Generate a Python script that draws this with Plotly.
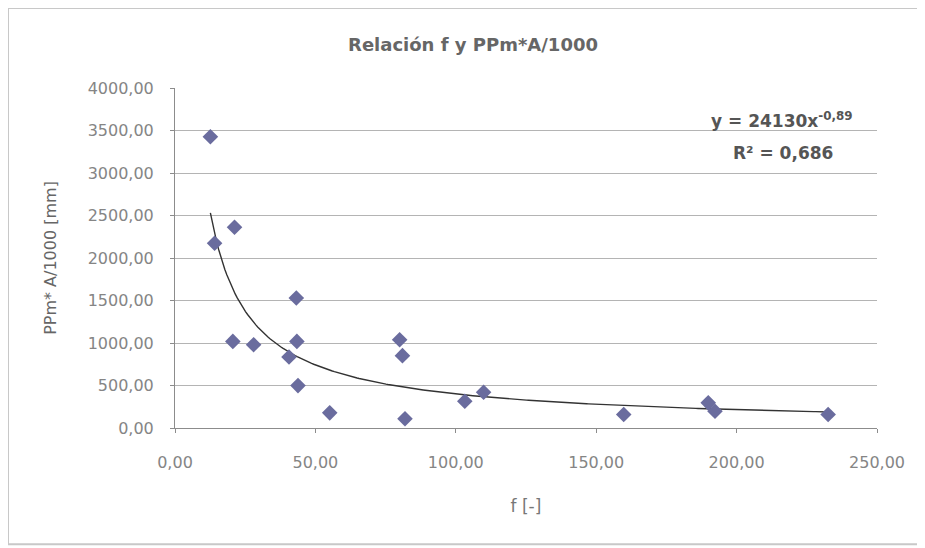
import numpy as np
import plotly.graph_objects as go

# Data
f_vals = [12.6, 14.1, 21.2, 20.6, 28.0, 40.6, 43.2, 43.4, 43.8, 55.1,
          80.0, 81.0, 81.9, 103.2, 109.9, 159.8, 189.9, 192.3, 232.6]
ppm_vals = [3426, 2173, 2362, 1019, 980, 836, 1529, 1019, 499, 178,
            1039, 851, 108, 315, 420, 158, 296, 197, 158]

# Power trendline shown on the chart: y = 24130 x^-0,89 ; R² = 0,686
coef_a = 24130
coef_b = -0.89
r2_text = "0,686"

x_ticks = [0, 50, 100, 150, 200, 250]
y_ticks = [0, 500, 1000, 1500, 2000, 2500, 3000, 3500, 4000]

xt = np.linspace(min(f_vals), max(f_vals), 300)
yt = coef_a * xt ** coef_b

# The page body has an 8px margin; screen coords -> figure coords
OFF = 8
W, H = 925 - OFF, 548 - OFF
PL, PR, PT, PB = 175, 877, 88, 428.5  # plot area in screen px


def px(sx):
    return (sx - PL) / (PR - PL)


def py(sy):
    return (PB - sy) / (PB - PT)


fig = go.Figure()
fig.add_trace(go.Scatter(x=xt, y=yt, mode="lines",
                         line=dict(color="#333333", width=1.4),
                         hoverinfo="skip", showlegend=False))
fig.add_trace(go.Scatter(x=f_vals, y=ppm_vals, mode="markers",
                         marker=dict(symbol="diamond", size=12, color="#6a6c9e",
                                     line=dict(width=0)),
                         showlegend=False))

axis_font = dict(family="DejaVu Sans", size=16, color="#858585")

fig.update_layout(
    width=W, height=H,
    margin=dict(l=PL - OFF, r=OFF + W - (PR - OFF) - OFF, t=PT - OFF, b=OFF + H - PB),
    paper_bgcolor="white", plot_bgcolor="white",
    separators=",.",
    title=dict(text="<b>Relación f y PPm*A/1000</b>", x=(473 - OFF) / W,
               xanchor="center", y=1 - (45 - OFF) / H, yanchor="middle",
               font=dict(family="DejaVu Sans", size=18, color="#666666")),
    xaxis=dict(range=[0, 250], tickvals=x_ticks, tickformat=".2f",
               showgrid=False, zeroline=False, showline=True, linecolor="#8c8c8c",
               linewidth=1, ticks="outside", ticklen=4, tickcolor="#8c8c8c",
               tickfont=axis_font, ticklabelstandoff=16,
               title=dict(text="f [-]", font=dict(family="DejaVu Sans", size=17, color="#777777"),
                          standoff=28)),
    yaxis=dict(range=[0, 4000], tickvals=y_ticks, tickformat=".2f",
               showgrid=True, gridcolor="#b4b4b4", gridwidth=1.2,
               zeroline=False, showline=True, linecolor="#8c8c8c", linewidth=1,
               ticks="outside", ticklen=4, tickcolor="#8c8c8c",
               tickfont=axis_font, ticklabelstandoff=13,
               title=dict(text="PPm* A/1000 [mm]", font=dict(family="DejaVu Sans", size=16, color="#666666"),
                          standoff=27)),
    annotations=[
        dict(xref="paper", yref="paper", x=px(782), y=py(120),
             text="<b>y = %dx<sup>%s</sup></b>" % (coef_a, str(coef_b).replace(".", ",")),
             showarrow=False, xanchor="center", yanchor="middle",
             font=dict(family="DejaVu Sans", size=17, color="#555555")),
        dict(xref="paper", yref="paper", x=px(783), y=py(153),
             text="<b>R² = %s</b>" % r2_text,
             showarrow=False, xanchor="center", yanchor="middle",
             font=dict(family="DejaVu Sans", size=17, color="#555555")),
    ],
    shapes=[
        dict(type="rect", xref="paper", yref="paper",
             x0=px(8), x1=px(919), y0=py(545), y1=py(8),
             line=dict(color="#c8c8c8", width=2), layer="below"),
    ],
)

fig.write_html("out.html")
